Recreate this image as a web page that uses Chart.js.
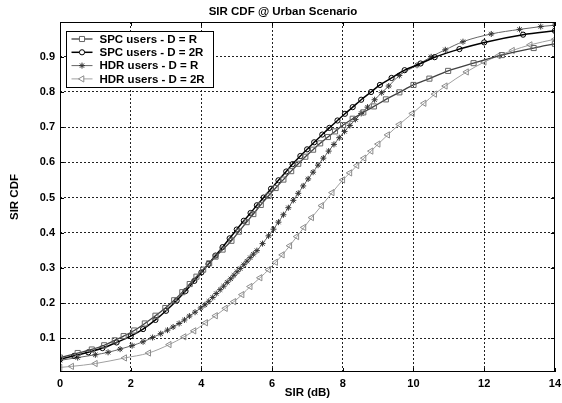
<!DOCTYPE html>
<html>
<head>
<meta charset="utf-8">
<script src="https://cdn.jsdelivr.net/npm/chart.js@4.4.0/dist/chart.umd.min.js"></script>
<style>
html, body { margin: 0; padding: 0; background: #fff; overflow: hidden; }
#wrap { width: 562px; height: 403px; overflow: hidden; }
</style>
</head>
<body>
<div id="wrap"><canvas id="chart" width="566" height="403"></canvas></div>
<script>
// values
const xTicks = [0, 2, 4, 6, 8, 10, 12, 14];
const yTicks = [0.1, 0.2, 0.3, 0.4, 0.5, 0.6, 0.7, 0.8, 0.9];

const spcRX = [0, 0.5, 0.9, 1.25, 1.55, 1.8, 2.1, 2.4, 2.7, 2.98, 3.23, 3.46, 3.67, 3.86, 4.05, 4.22, 4.4, 4.6, 4.85, 5.06, 5.28, 5.47, 5.68, 5.9, 6.1, 6.32, 6.54, 6.74, 6.94, 7.16, 7.36, 7.58, 7.78, 8.01, 8.28, 8.58, 8.88, 9.22, 9.6, 10.0, 10.45, 10.98, 11.7, 12.5, 13.4, 14];
const spcRY = [0.045, 0.058, 0.068, 0.08, 0.094, 0.106, 0.122, 0.142, 0.164, 0.186, 0.208, 0.231, 0.254, 0.275, 0.295, 0.313, 0.332, 0.352, 0.377, 0.403, 0.430, 0.453, 0.479, 0.505, 0.527, 0.551, 0.575, 0.596, 0.616, 0.636, 0.654, 0.672, 0.688, 0.706, 0.724, 0.742, 0.759, 0.779, 0.799, 0.82, 0.838, 0.86, 0.882, 0.905, 0.925, 0.937];

const spc2RX = [0, 0.4, 0.8, 1.2, 1.6, 2.0, 2.35, 2.7, 3.0, 3.3, 3.55, 3.8, 4.0, 4.2, 4.4, 4.6, 4.8, 5.0, 5.2, 5.39, 5.57, 5.76, 5.97, 6.18, 6.4, 6.58, 6.8, 6.99, 7.19, 7.42, 7.62, 7.85, 8.06, 8.28, 8.52, 8.8, 9.05, 9.38, 9.75, 10.2, 10.6, 11.3, 12.0, 13.1, 14];
const spc2RY = [0.04, 0.05, 0.06, 0.072, 0.088, 0.106, 0.126, 0.152, 0.178, 0.207, 0.234, 0.263, 0.287, 0.311, 0.335, 0.359, 0.384, 0.409, 0.434, 0.456, 0.478, 0.5, 0.525, 0.549, 0.574, 0.595, 0.618, 0.637, 0.657, 0.679, 0.698, 0.719, 0.738, 0.757, 0.778, 0.8, 0.82, 0.84, 0.862, 0.881, 0.899, 0.922, 0.941, 0.963, 0.974];

const hdrRX = [0, 0.5, 1.0, 1.36, 1.7, 2.04, 2.35, 2.62, 2.85, 3.04, 3.2, 3.37, 3.52, 3.66, 3.82, 3.98, 4.1, 4.21, 4.32, 4.42, 4.53, 4.63, 4.73, 4.83, 4.92, 5.01, 5.1, 5.2, 5.29, 5.38, 5.47, 5.57, 5.73, 5.9, 6.04, 6.18, 6.32, 6.46, 6.6, 6.74, 6.88, 7.02, 7.16, 7.3, 7.45, 7.6, 7.75, 7.9, 8.05, 8.2, 8.36, 8.52, 8.7, 8.9, 9.1, 9.3, 9.6, 10.1, 10.5, 10.9, 11.4, 12.2, 13.0, 13.6, 14];
const hdrRY = [0.037, 0.045, 0.053, 0.06, 0.069, 0.079, 0.09, 0.102, 0.113, 0.123, 0.132, 0.142, 0.152, 0.163, 0.174, 0.186, 0.195, 0.205, 0.216, 0.227, 0.238, 0.248, 0.259, 0.269, 0.279, 0.289, 0.298, 0.309, 0.319, 0.329, 0.339, 0.349, 0.369, 0.391, 0.41, 0.43, 0.451, 0.471, 0.492, 0.512, 0.533, 0.553, 0.572, 0.592, 0.612, 0.632, 0.651, 0.67, 0.688, 0.705, 0.722, 0.739, 0.757, 0.778, 0.798, 0.817, 0.847, 0.876, 0.9, 0.92, 0.943, 0.965, 0.978, 0.986, 0.99];

const hdr2RX = [0, 0.33, 1.0, 1.83, 2.51, 3.09, 3.51, 3.79, 4.12, 4.4, 4.68, 4.92, 5.15, 5.38, 5.66, 5.9, 6.1, 6.29, 6.5, 6.7, 6.9, 7.12, 7.4, 7.7, 8.0, 8.2, 8.4, 8.6, 8.8, 9.0, 9.27, 9.6, 9.97, 10.3, 10.6, 10.9, 11.5, 12.0, 12.4, 12.8, 13.3, 14];
const hdr2RY = [0.017, 0.02, 0.028, 0.044, 0.058, 0.082, 0.104, 0.121, 0.144, 0.164, 0.185, 0.204, 0.224, 0.247, 0.272, 0.295, 0.316, 0.337, 0.363, 0.389, 0.415, 0.443, 0.477, 0.514, 0.55, 0.57, 0.591, 0.612, 0.632, 0.652, 0.678, 0.708, 0.739, 0.768, 0.794, 0.817, 0.857, 0.885, 0.903, 0.918, 0.934, 0.95];

const FONT = "Arial, 'Liberation Sans', Helvetica, sans-serif";

const toPoints = (xs, ys) => xs.map((x, i) => ({ x: x, y: ys[i] }));

const series = [
    { label: "SPC users - D = R", data: toPoints(spcRX, spcRY), line: "#404040", mark: "#666666", width: 1.3, style: "rect", radius: 3.6, rot: 0 },
    { label: "SPC users - D = 2R", data: toPoints(spc2RX, spc2RY), line: "#000000", mark: "#000000", width: 1.5, style: "circle", radius: 2.6, rot: 0 },
    { label: "HDR users - D = R", data: toPoints(hdrRX, hdrRY), line: "#666666", mark: "#333333", width: 1, style: "star", radius: 3, rot: 0 },
    { label: "HDR users - D = 2R", data: toPoints(hdr2RX, hdr2RY), line: "#a0a0a0", mark: "#8c8c8c", width: 1, style: "triangle", radius: 3.6, rot: 270 },
];

const getDatasets = () => series.map(s => ({
    label: s.label,
    data: s.data,
    borderColor: s.line,
    borderWidth: s.width,
    cubicInterpolationMode: "monotone",
    pointStyle: s.style,
    pointRotation: s.rot,
    pointRadius: s.radius,
    pointBorderWidth: 1,
    pointBorderColor: s.mark,
    pointBackgroundColor: "rgba(0,0,0,0)",
}));

// box and inward ticks, matlab style
const framePlugin = {
    id: "frame",
    afterDatasetsDraw(chart) {
        const { ctx, chartArea: a, scales } = chart;
        ctx.save();
        ctx.strokeStyle = "#000";
        ctx.lineWidth = 1;
        ctx.beginPath();
        xTicks.forEach(v => {
            const px = Math.round(scales.x.getPixelForValue(v)) + 0.5;
            ctx.moveTo(px, a.bottom); ctx.lineTo(px, a.bottom - 4);
            ctx.moveTo(px, a.top); ctx.lineTo(px, a.top + 4);
        });
        yTicks.forEach(v => {
            const py = Math.round(scales.y.getPixelForValue(v)) + 0.5;
            ctx.moveTo(a.left, py); ctx.lineTo(a.left + 4, py);
            ctx.moveTo(a.right, py); ctx.lineTo(a.right - 4, py);
        });
        ctx.stroke();
        ctx.strokeRect(Math.round(a.left) + 0.5, Math.round(a.top) + 0.5, Math.round(a.right - a.left) - 1, Math.round(a.bottom - a.top) - 1);
        ctx.restore();
    },
};

const legendPlugin = {
    id: "boxLegend",
    afterDraw(chart) {
        const ctx = chart.ctx;
        const a = chart.chartArea;
        const x0 = a.left + 6.5, y0 = a.top + 9.5, w = 147, h = 56;
        ctx.save();
        ctx.fillStyle = "#fff";
        ctx.fillRect(x0, y0, w, h);
        ctx.strokeStyle = "#000";
        ctx.lineWidth = 1;
        ctx.strokeRect(x0, y0, w, h);
        ctx.font = "bold 11.5px " + FONT;
        ctx.textBaseline = "middle";
        series.forEach((s, i) => {
            const y = y0 + 7.5 + i * 13.3;
            ctx.strokeStyle = s.line;
            ctx.lineWidth = s.width;
            ctx.beginPath();
            ctx.moveTo(x0 + 5, y); ctx.lineTo(x0 + 26, y);
            ctx.stroke();
            ctx.strokeStyle = s.mark;
            ctx.fillStyle = "#fff";
            ctx.lineWidth = 1;
            Chart.helpers.drawPoint(ctx, { pointStyle: s.style, rotation: s.rot, radius: s.radius, borderWidth: 1 }, x0 + 15.5, y);
            ctx.fillStyle = "#000";
            ctx.fillText(s.label, x0 + 33, y + 0.5);
        });
        ctx.restore();
    },
};

const getConfig = () => ({
    type: "line",
    data: { datasets: getDatasets() },
    options: {
        responsive: false,
        animation: false,
        devicePixelRatio: 1,
        layout: { padding: { left: 0, right: 0, top: 0, bottom: 0 } },
        plugins: {
            legend: { display: false },
            tooltip: { enabled: false },
            title: {
                display: true,
                text: "SIR CDF @ Urban Scenario",
                color: "#000",
                font: { family: FONT, size: 11.5, weight: "bold", lineHeight: 1.2 },
                padding: { top: 5, bottom: 3.2 },
            },
        },
        scales: {
            x: {
                type: "linear",
                min: 0,
                max: 14,
                ticks: {
                    stepSize: 2,
                    color: "#000",
                    padding: 5,
                    maxRotation: 0,
                    font: { family: FONT, size: 11, weight: "bold" },
                },
                grid: { color: "#222", lineWidth: 1, drawTicks: false },
                border: { display: false, dash: [2, 2] },
                title: {
                    display: true,
                    text: "SIR (dB)",
                    color: "#000",
                    font: { family: FONT, size: 11.5, weight: "bold", lineHeight: 1.2 },
                    padding: { top: 0, bottom: 3 },
                },
                afterFit(scale) {
                    scale.height = 31;
                },
            },
            y: {
                type: "linear",
                min: 0.004,
                max: 0.999,
                ticks: {
                    stepSize: 0.1,
                    includeBounds: false,
                    color: "#000",
                    padding: 5,
                    font: { family: FONT, size: 11, weight: "bold" },
                    callback: v => v.toFixed(1),
                },
                grid: { color: "#222", lineWidth: 1, drawTicks: false },
                border: { display: false, dash: [2, 2] },
                title: {
                    display: true,
                    text: "SIR CDF",
                    color: "#000",
                    font: { family: FONT, size: 11.5, weight: "bold", lineHeight: 1.2 },
                    padding: { top: 8, bottom: 0 },
                },
                afterFit(scale) {
                    scale.width = 60;
                    scale.paddingTop = 0;
                    scale.paddingBottom = 0;
                },
            },
        },
    },
    plugins: [framePlugin, legendPlugin],
});

const createChart = () => {
    const ctx = document.getElementById("chart").getContext("2d");
    new Chart(ctx, getConfig());
};

createChart();
</script>
</body>
</html>
